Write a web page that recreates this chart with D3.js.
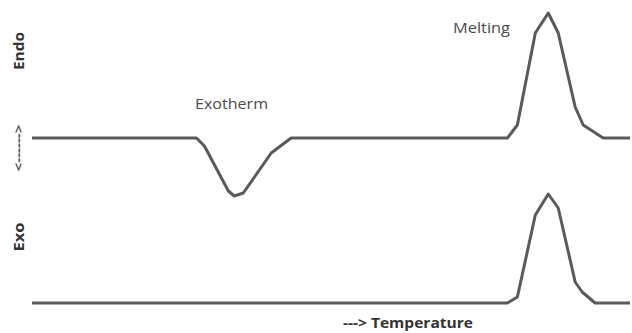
<!DOCTYPE html>
<html>
<head>
<meta charset="utf-8">
<script src="https://cdn.jsdelivr.net/npm/d3@7/dist/d3.min.js"></script>
<style>
  html, body { margin: 0; padding: 0; background: #fff; }
  svg { display: block; }
</style>
</head>
<body>
<svg id="chart" width="632" height="333"></svg>
<script>
// DSC schematic: temperature (arbitrary units) vs heat flow (arbitrary units)
const upperTemp = [30, 195, 203, 227, 233, 242, 270, 290, 507, 517, 535, 548, 558, 575, 583, 603, 630];
const upperFlow = [0, 0, -0.8, -5.3, -5.8, -5.5, -1.5, 0, 0, 1.3, 10.5, 12.5, 10.5, 3.1, 1.3, 0, 0];

const lowerTemp = [30, 507, 517, 535, 548, 558, 575, 582, 595, 630];
const lowerFlow = [0, 0, 0.6, 8.8, 10.9, 9.5, 2.1, 1.1, 0, 0];

const curveLabels = ["Exotherm", "Melting"];
const axisLabels = ["Endo", "<------>", "Exo", "---> Temperature"];

const svg = d3.select("#chart");

const x = d3.scaleLinear().domain([30, 630]).range([32, 630]);
const yUpper = d3.scaleLinear().domain([-6, 12.5]).range([198, 13]);
const yLower = d3.scaleLinear().domain([0, 12.5]).range([303, 178]);

const lineColor = "#5a5a5a";

function drawCurve(temps, flows, yScale) {
  const pts = temps.map((t, i) => [t, flows[i]]);
  const line = d3.line().x(d => x(d[0])).y(d => yScale(d[1]));
  svg.append("path")
    .datum(pts)
    .attr("d", line)
    .attr("fill", "none")
    .attr("stroke", lineColor)
    .attr("stroke-width", 3)
    .attr("stroke-linejoin", "round");
}

drawCurve(upperTemp, upperFlow, yUpper);
drawCurve(lowerTemp, lowerFlow, yLower);

const font = "'Open Sans', 'Liberation Sans', sans-serif";

// Peak labels
svg.append("text")
  .attr("x", 195).attr("y", 109)
  .attr("font-family", font).attr("font-size", 15)
  .attr("textLength", 73).attr("lengthAdjust", "spacingAndGlyphs")
  .attr("fill", "#4a4a4a")
  .text(curveLabels[0]);

svg.append("text")
  .attr("x", 453).attr("y", 33)
  .attr("font-family", font).attr("font-size", 15)
  .attr("textLength", 57).attr("lengthAdjust", "spacingAndGlyphs")
  .attr("fill", "#4a4a4a")
  .text(curveLabels[1]);

// Vertical axis labels (rotated)
function vLabel(txt, cx, cy, size, len, color) {
  svg.append("text")
    .attr("transform", `translate(${cx},${cy}) rotate(-90)`)
    .attr("x", -len / 2)
    .attr("dominant-baseline", "central")
    .attr("font-family", font).attr("font-size", size)
    .attr("font-weight", "bold")
    .attr("textLength", len).attr("lengthAdjust", "spacingAndGlyphs")
    .attr("fill", color)
    .text(txt);
}
vLabel(axisLabels[0], 18, 51, 15, 38, "#333");
vLabel(axisLabels[1], 18, 148, 13, 47, "#555");
vLabel(axisLabels[2], 18, 237, 15, 29, "#333");

// Horizontal axis label
svg.append("text")
  .attr("x", 343).attr("y", 328)
  .attr("font-family", font).attr("font-size", 14)
  .attr("font-weight", "bold")
  .attr("textLength", 130).attr("lengthAdjust", "spacingAndGlyphs")
  .attr("fill", "#333")
  .text(axisLabels[3]);
</script>
</body>
</html>
